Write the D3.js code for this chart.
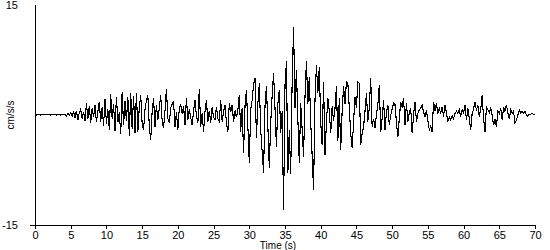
<!DOCTYPE html>
<html>
<head>
<meta charset="utf-8">
<script src="https://cdn.jsdelivr.net/npm/d3@7"></script>
<style>
  body { margin: 0; background: #fff; }
  text { font-family: "Liberation Sans", Arial, sans-serif; font-size: 11px; fill: #000; }
  .trace { fill: none; stroke: #000; stroke-width: 1.1; shape-rendering: crispEdges; }
</style>
</head>
<body>
<div id="chart"></div>
<script>
// sample spacing of the trace, seconds
var timeStep = 0.2;

// acceleration, cm/s/s, every 0.2 s from 0 to 70 s
var accel = [
  // 0 - 4 s
  0, 0, 0.05, 0.05, 0, 0.1, 0.05, 0.1, 0.05, 0.1, 0.05, 0, 0.05, 0.1, 0.05, 0, 0.05, 0.1, 0, 0.05, 0.1,
  // 4.2 - 5 s
  0.1, -0.1, 0.2, 0, 0.3,
  // 5.2 - 7 s
  -0.2, 0.5, -0.4, 0.6, -0.7, 0.3, 0.8, -0.5, 0.4, -0.8,
  // 7.2 - 9.4 s
  1.6, -0.6, 1.2, -1.1, 0.9, -0.3, 1.4, -1.0, 0.5, 1.8, -0.9, 1.1,
  // 9.6 - 14 s
  -1.5, 2.2, -1.2, 0.8, -2.0, 2.8, -0.5, 1.5, -2.2, 2.5, -1.0, 0.4, -2.6, 3.1, -1.4, 1.9, -0.8, 2.4, -2.8, 3.0, -1.9, 2.6, -2.4,
  // 14.2 - 28 s
  3.0, -2.3, 1.0, 2.7, -1.2, -2.0, 0.8, 2.0, 2.7, -1.5,
  -3.4, 0.5, 2.3, -1.6, 1.4, -0.7, 1.0, 2.7, -0.8, -1.8,
  0.6, 3.6, -0.5, -1.1, 1.0, 1.5, 1.8, -1.6, 0.4, -2.0,
  0.9, 1.4, 0.2, 1.2, -1.4, 2.3, -0.7, 0.8, -0.3, -1.4,
  0.6, 2.0, -0.2, -1.1, 3.6, -1.6, 0.3, -2.3, 0.5, 2.0,
  -0.9, 0.6, -1.1, 1.1, -0.3, -0.7, 1.1, -0.5, -0.9, 2.0,
  -0.9, 0.4, 1.4, -1.1, -2.3, 1.6, 0.4, 1.4, -0.9, 0.6,
  // 28.2 - 42 s
  -0.3, 0.7, 2.7, -2.3, 1.0, -5.2, 1.2, 3.4, -1.5, -6.5,
  0.8, 2.0, 4.2, 5.0, -3.2, 1.5, 4.3, -2.0, -5.0, -7.9,
  1.2, 3.9, -1.5, -7.2, -1.0, 2.7, 5.7, 1.0, -4.3, 1.5,
  3.4, -2.5, 0.5, -13.0, 4.0, 7.3, -7.9, -2.0, -8.0, 4.5,
  12.0, 1.0, 6.2, -0.5, -6.5, 1.6, -2.0, -5.7, 2.5, 7.3,
  1.5, 5.2, -1.0, -5.5, -10.2, 2.0, 6.8, 3.0, 6.6, -1.0,
  -4.1, 4.5, -5.5, -1.0, 2.3, 0.5, -2.5, 1.2, -0.8, 0.9,
  // 42.2 - 56 s
  3.9, -3.6, 2.3, -4.8, 0.5, 3.9, 1.5, 4.5, 4.3, 1.0,
  -2.5, -4.5, -1.0, 2.5, 1.0, 4.5, 4.3, -4.1, -2.5, -1.6,
  0.5, 3.0, -0.9, 1.0, 5.0, -1.6, -0.5, -1.8, 0, 1.4,
  4.1, -2.3, -0.5, 2.0, -2.0, 0.3, 1.4, -1.4, 0, 0.8,
  1.6, 1.4, -1.0, -3.0, -0.5, 1.8, 1.0, 2.3, -1.4, 1.6,
  -0.9, 0.3, 0.9, -2.5, 0, 1.8, -0.9, 0.2, 0.7, 0.9,
  1.4, 0.4, -0.2, 0.7, -0.8, -2.0, -1.5, -2.3, 1.8, 0.5,
  // 56.2 - 70 s
  1.6, 0.2, 0.9, 0.2, 1.1, -0.2, 1.4, 0.3, -0.9, -0.3,
  -0.7, -0.1, -0.5, 0.2, 0.5, 0.2, 0.7, -0.2, 0.7, 0.3,
  1.4, -0.7, 0.9, -0.5, -2.0, 0.2, 0.8, 1.8, 0.6, 1.4,
  -0.2, 0.8, 2.7, -0.5, -2.3, 1.1, 0.7, 0.3, 0.9, 0,
  -1.4, -0.6, -1.6, 0.5, 0.2, 0.9, -0.7, 1.1, 0.5, 1.4,
  0.3, -0.5, 0.7, 0.2, 0.5, -1.1, -0.7, 0, 0.7, 0.3,
  0.5, 0.2, 0.5, 0, -0.2, 0.1, 0.1, 0.2, 0.1, 0.1
];

var timeTicks = [0, 5, 10, 15, 20, 25, 30, 35, 40, 45, 50, 55, 60, 65, 70];
var accelLabels = [15, -15];

var width = 550, height = 250;

var x = d3.scaleLinear().domain([0, 70]).range([35, 535]);
var y = d3.scaleLinear().domain([-15, 15]).range([225, 5]);

var svg = d3.select("#chart").append("svg")
    .attr("width", width)
    .attr("height", height);

// trace
var line = d3.line()
    .x(function (d, i) { return x(i * timeStep); })
    .y(function (d) { return y(d); });

svg.append("path")
    .datum(accel)
    .attr("class", "trace")
    .attr("d", line);

// x axis along the bottom
var xAxis = d3.axisBottom(x)
    .tickValues(timeTicks)
    .tickSize(4)
    .tickPadding(2)
    .tickFormat(d3.format("d"));

var gx = svg.append("g")
    .attr("transform", "translate(0," + y(-15) + ")")
    .call(xAxis);
gx.select(".domain").remove();
gx.selectAll("line").attr("stroke", "#000").attr("shape-rendering", "crispEdges");
gx.selectAll("text").style("font-size", "11px").attr("fill", "#000");

svg.append("line")
    .attr("x1", x(0) - 5).attr("x2", x(70))
    .attr("y1", y(-15)).attr("y2", y(-15))
    .attr("stroke", "#000")
    .attr("shape-rendering", "crispEdges");

// y axis, labels only at the ends
svg.append("line")
    .attr("x1", x(0)).attr("x2", x(0))
    .attr("y1", y(15)).attr("y2", y(-15))
    .attr("stroke", "#000")
    .attr("shape-rendering", "crispEdges");

svg.selectAll(".ylab")
    .data(accelLabels)
  .enter().append("text")
    .attr("class", "ylab")
    .attr("x", 18)
    .attr("y", function (d) { return y(d); })
    .attr("dy", "0.35em")
    .attr("text-anchor", "end")
    .text(function (d) { return d; });

svg.append("text")
    .attr("transform", "translate(14," + y(0) + ") rotate(-90)")
    .attr("text-anchor", "middle")
    .style("font-size", "10px")
    .text("cm/s/s");

svg.append("text")
    .attr("x", 278)
    .attr("y", 249)
    .attr("text-anchor", "middle")
    .style("font-size", "10px")
    .text("Time (s)");
</script>
</body>
</html>
